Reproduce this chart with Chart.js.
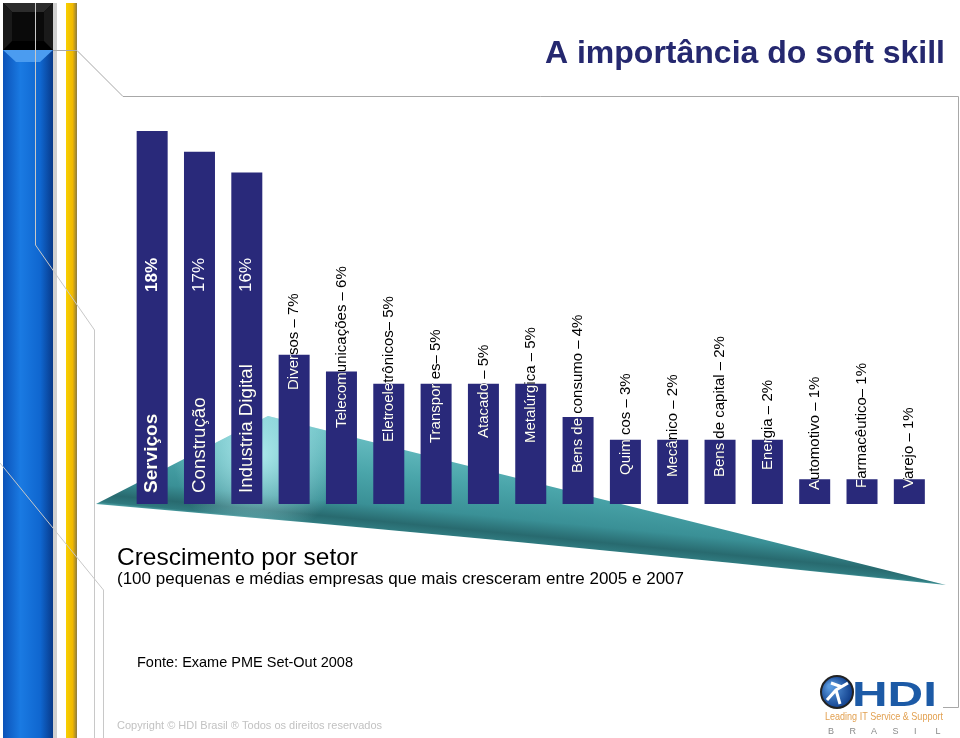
<!DOCTYPE html>
<html lang="pt">
<head>
    <meta charset="UTF-8">
    <title>A importância do soft skill</title>
    <script src="https://cdn.jsdelivr.net/npm/chart.js"></script>
    <style>
        html, body { margin: 0; padding: 0; background: #fff; }
        canvas { display: block; }
    </style>
</head>
<body>
    <canvas id="sectorChart" width="960" height="738"></canvas>
    <script>
        // Sector labels as printed on the bars
        const sectorLabels = [
            'Serviços', 'Construção', 'Industria Digital',
            'Diversos – 7%', 'Telecomunicações – 6%', 'Eletroeletrônicos– 5%',
            'Transpor es– 5%', 'Atacado – 5%', 'Metalúrgica – 5%',
            'Bens de consumo – 4%', 'Quim cos – 3%', 'Mecânico – 2%',
            'Bens de capital – 2%', 'Energia – 2%', 'Automotivo – 1%',
            'Farmacêutico– 1%', 'Varejo – 1%'
        ];
        // values printed separately on the three tall bars
        const topValueLabels = ['18%', '17%', '16%'];
        // bar heights as drawn in the picture (in % units)
        const barHeights = [18, 17, 16, 7.2, 6.4, 5.8, 5.8, 5.8, 5.8, 4.2, 3.1, 3.1, 3.1, 3.1, 1.2, 1.2, 1.2];

        // layout only: where each rotated label starts (px from top)
        const labelStartY = [493, 493, 493, 390, 428, 442, 443, 438, 443, 473, 475, 477, 477, 470, 490, 488, 488];

        const navy = '#29297a';
        const sans = '"Liberation Sans", Arial, sans-serif';

        function rotatedText(ctx, text, x, y, font, color, align) {
            ctx.save();
            ctx.translate(x, y);
            ctx.rotate(-Math.PI / 2);
            ctx.font = font;
            ctx.fillStyle = color;
            ctx.textAlign = align || 'left';
            ctx.textBaseline = 'middle';
            ctx.fillText(text, 0, 0);
            ctx.restore();
        }

        const slideDecor = {
            id: 'slideDecor',
            beforeDraw(chart) {
                const ctx = chart.ctx;
                ctx.save();
                ctx.fillStyle = '#fff';
                ctx.fillRect(0, 0, 960, 738);

                // black bevelled block top-left
                ctx.fillStyle = '#000';
                ctx.fillRect(3, 3, 50, 47);
                ctx.fillStyle = '#2c2c2c';
                ctx.beginPath();
                ctx.moveTo(3, 3); ctx.lineTo(53, 3); ctx.lineTo(44, 12); ctx.lineTo(12, 12);
                ctx.closePath();
                ctx.fill();
                ctx.fillStyle = '#1a1a1a';
                ctx.beginPath();
                ctx.moveTo(3, 3); ctx.lineTo(12, 12); ctx.lineTo(12, 41); ctx.lineTo(3, 50);
                ctx.moveTo(53, 3); ctx.lineTo(44, 12); ctx.lineTo(44, 41); ctx.lineTo(53, 50);
                ctx.fill();
                ctx.fillStyle = '#0a0a0a';
                ctx.fillRect(12, 12, 32, 29);

                // blue strip
                let g = ctx.createLinearGradient(3, 0, 53, 0);
                g.addColorStop(0, '#0b52b8');
                g.addColorStop(0.35, '#1a7ae2');
                g.addColorStop(0.75, '#0f66cf');
                g.addColorStop(1, '#083a8a');
                ctx.fillStyle = g;
                ctx.fillRect(3, 50, 50, 688);
                ctx.fillStyle = '#4b9cf0';
                ctx.beginPath();
                ctx.moveTo(3, 50); ctx.lineTo(53, 50); ctx.lineTo(40, 62); ctx.lineTo(16, 62);
                ctx.closePath();
                ctx.fill();
                ctx.fillStyle = '#d0d0d0';
                ctx.fillRect(53, 3, 4, 735);

                // yellow strip
                g = ctx.createLinearGradient(66, 0, 77, 0);
                g.addColorStop(0, '#f8d000');
                g.addColorStop(0.6, '#f0b800');
                g.addColorStop(1, '#8c7a40');
                ctx.fillStyle = g;
                ctx.fillRect(66, 3, 11, 735);

                // thin frame lines
                ctx.strokeStyle = '#a8a8a8';
                ctx.lineWidth = 1;
                ctx.beginPath();
                ctx.moveTo(53, 50.5); ctx.lineTo(77, 50.5); ctx.lineTo(123, 96.5); ctx.lineTo(958.5, 96.5);
                ctx.lineTo(958.5, 707.5); ctx.lineTo(943, 707.5);
                ctx.stroke();
                ctx.strokeStyle = '#c8c8c8';
                ctx.beginPath();
                ctx.moveTo(35.5, 3); ctx.lineTo(35.5, 245); ctx.lineTo(94.5, 330); ctx.lineTo(94.5, 738);
                ctx.moveTo(0, 463); ctx.lineTo(103.5, 590); ctx.lineTo(103.5, 738);
                ctx.stroke();
                ctx.restore();
            },
            beforeDatasetsDraw(chart) {
                // teal wedge behind the bars
                const ctx = chart.ctx;
                ctx.save();
                ctx.beginPath();
                ctx.moveTo(96, 504);
                ctx.lineTo(268, 416);
                ctx.lineTo(946, 585);
                ctx.quadraticCurveTo(520, 540, 96, 504);
                ctx.closePath();
                // bands run parallel to the lower edge
                const g = ctx.createLinearGradient(268, 416, 258, 520);
                g.addColorStop(0, '#6fc3c7');
                g.addColorStop(0.45, '#4aa5aa');
                g.addColorStop(0.75, '#3a9096');
                g.addColorStop(0.9, '#286a6f');
                g.addColorStop(0.97, '#2f7a7f');
                g.addColorStop(1, '#55a9ad');
                ctx.fillStyle = g;
                ctx.fill();
                ctx.clip();
                const r = ctx.createRadialGradient(258, 455, 4, 258, 455, 85);
                r.addColorStop(0, 'rgba(190,245,248,0.8)');
                r.addColorStop(1, 'rgba(190,245,248,0)');
                ctx.fillStyle = r;
                ctx.fillRect(90, 400, 300, 140);
                ctx.restore();
            },
            afterDatasetsDraw(chart) {
                const ctx = chart.ctx;
                const bars = chart.getDatasetMeta(0).data;
                bars.forEach((bar, i) => {
                    const big = i < 3;
                    const font = big
                        ? (i === 0 ? 'bold 19px ' : '18.7px ') + sans
                        : '15px ' + sans;
                    const y0 = labelStartY[i];
                    // black outside the bar, white inside
                    rotatedText(ctx, sectorLabels[i], bar.x, y0, font, '#000');
                    ctx.save();
                    ctx.beginPath();
                    ctx.rect(bar.x - bar.width / 2, bar.y, bar.width, bar.base - bar.y);
                    ctx.clip();
                    rotatedText(ctx, sectorLabels[i], bar.x, y0, font, '#fff');
                    if (big) {
                        rotatedText(ctx, topValueLabels[i], bar.x, 275,
                            (i === 0 ? 'bold ' : '') + '17px ' + sans, '#fff', 'center');
                    }
                    ctx.restore();
                });
            },
            afterDraw(chart) {
                const ctx = chart.ctx;
                ctx.save();
                ctx.textBaseline = 'alphabetic';
                ctx.textAlign = 'right';
                ctx.fillStyle = '#25286f';
                ctx.font = 'bold 32px ' + sans;
                ctx.fillText('A importância do soft skill', 945, 63);

                ctx.textAlign = 'left';
                ctx.fillStyle = '#000';
                ctx.font = '24.5px ' + sans;
                ctx.fillText('Crescimento por setor', 117, 565);
                ctx.font = '17px ' + sans;
                ctx.fillText('(100 pequenas e médias empresas que mais cresceram entre 2005 e 2007', 117, 584);
                ctx.font = '14.5px ' + sans;
                ctx.fillText('Fonte: Exame PME Set-Out 2008', 137, 667);
                ctx.fillStyle = '#c2c2c2';
                ctx.font = '11px ' + sans;
                ctx.fillText('Copyright © HDI Brasil ® Todos os direitos reservados', 117, 729);

                // HDI logo
                const gl = ctx.createRadialGradient(830, 686, 2, 835, 692, 17);
                gl.addColorStop(0, '#5b9be0');
                gl.addColorStop(1, '#103f8c');
                ctx.fillStyle = gl;
                ctx.beginPath();
                ctx.arc(837, 692, 16, 0, Math.PI * 2);
                ctx.fill();
                ctx.strokeStyle = '#222';
                ctx.lineWidth = 2;
                ctx.stroke();
                ctx.strokeStyle = '#fff';
                ctx.lineWidth = 3;
                ctx.beginPath();
                ctx.moveTo(827, 700); ctx.lineTo(836, 690); ctx.lineTo(848, 683);
                ctx.moveTo(836, 690); ctx.lineTo(840, 704);
                ctx.moveTo(831, 683); ctx.lineTo(842, 687);
                ctx.stroke();

                ctx.save();
                ctx.translate(852, 706);
                ctx.scale(1.45, 1.05);
                ctx.fillStyle = '#1c5aa6';
                ctx.font = 'bold 34px ' + sans;
                ctx.fillText('HDI', 0, 0);
                ctx.restore();

                ctx.save();
                ctx.translate(825, 720);
                ctx.scale(0.86, 1);
                ctx.fillStyle = '#e2a050';
                ctx.font = '10.5px ' + sans;
                ctx.fillText('Leading IT Service & Support', 0, 0);
                ctx.restore();
                ctx.fillStyle = '#8a8a8a';
                ctx.font = '9px ' + sans;
                ['B', 'R', 'A', 'S', 'I', 'L'].forEach((c, k) => ctx.fillText(c, 828 + k * 21.5, 734));
                ctx.restore();
            }
        };

        new Chart(document.getElementById('sectorChart'), {
            type: 'bar',
            data: {
                labels: sectorLabels,
                datasets: [{
                    data: barHeights,
                    backgroundColor: navy,
                    borderWidth: 0,
                    barPercentage: 0.655,
                    categoryPercentage: 1
                }]
            },
            options: {
                responsive: false,
                animation: false,
                layout: { padding: { left: 128.5, right: 27, top: 131, bottom: 234 } },
                scales: {
                    x: { display: false },
                    y: { display: false, min: 0, max: 18 }
                },
                plugins: {
                    legend: { display: false },
                    tooltip: { enabled: false }
                }
            },
            plugins: [slideDecor]
        });
    </script>
</body>
</html>
